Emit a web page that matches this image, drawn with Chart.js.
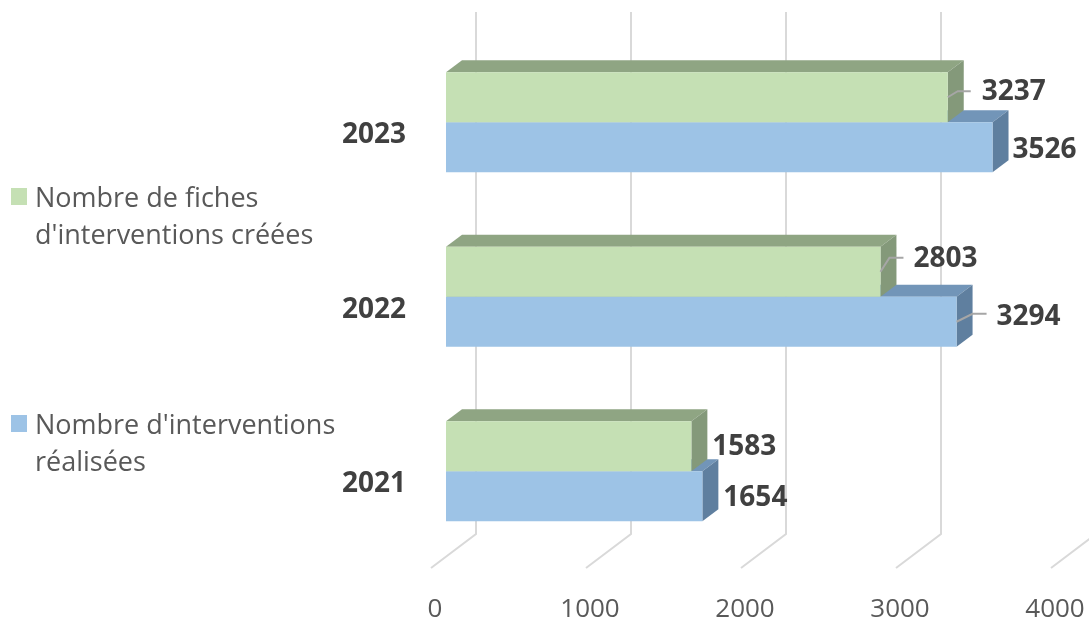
<!DOCTYPE html>
<html lang="fr">
<head>
<meta charset="utf-8">
<title>Interventions</title>
<script src="https://cdn.jsdelivr.net/npm/chart.js@4"></script>
<style>
  body { margin: 0; background: #fff; }
  #wrap { position: relative; width: 1089px; height: 621px; overflow: hidden; }
  .legend-item { position: absolute; left: 35px; font: 27px/37px "Open Sans", sans-serif; color: #595959; white-space: nowrap; }
  .legend-item i { position: absolute; left: -24px; top: 10px; width: 16px; height: 17px; }
</style>
</head>
<body>
<div id="wrap">
  <canvas id="chart" width="1089" height="621"></canvas>
</div>
<script>
const years = ['2023', '2022', '2021'];
const fiches = [3237, 2803, 1583];
const realisees = [3526, 3294, 1654];
const xTicks = [0, 1000, 2000, 3000, 4000];
const ficheLegend = ['Nombre de fiches', "d'interventions créées"];
const realiseeLegend = ["Nombre d'interventions", 'réalisées'];

const GREEN = { front: '#c5e0b4', top: '#8fa583', side: '#84997a' };
const BLUE = { front: '#9dc3e6', top: '#7295b8', side: '#5f7f9f' };
const DEPTH_X = 16, DEPTH_Y = 12;

// label position relative to the end of its bar, leader = [knee dx, knee dy, end dx] or null
const ficheLabels = [
  { dx: 66, dy: -5, leader: [10, -6, 23] },
  { dx: 65, dy: -13, leader: [9, -14, 23] },
  { dx: 53, dy: 1, leader: null }
];
const realiseeLabels = [
  { dx: 52, dy: 3, leader: null },
  { dx: 72, dy: -5, leader: [16, -8, 30] },
  { dx: 53, dy: 2, leader: null }
];

function poly(ctx, pts, color) {
  ctx.fillStyle = color;
  ctx.beginPath();
  pts.forEach((p, i) => i ? ctx.lineTo(p[0], p[1]) : ctx.moveTo(p[0], p[1]));
  ctx.closePath();
  ctx.fill();
}

const wallAndFaces = {
  id: 'wallAndFaces',
  beforeDatasetsDraw(chart) {
    const ctx = chart.ctx;
    const x = chart.scales.x;
    ctx.save();
    // back wall + floor lines
    ctx.strokeStyle = '#d9d9d9';
    ctx.lineWidth = 2;
    x.ticks.forEach(t => {
      const px = x.getPixelForValue(t.value);
      ctx.beginPath();
      ctx.moveTo(px + 30, 12);
      ctx.lineTo(px + 30, 534);
      ctx.lineTo(px - 15, 568);
      ctx.stroke();
    });
    // blue first, the green side sits over the blue top
    [[1, BLUE], [0, GREEN]].forEach(([d, c]) => {
      chart.getDatasetMeta(d).data.forEach(bar => {
        const t = bar.y - bar.height / 2, b = bar.y + bar.height / 2;
        poly(ctx, [[bar.base, t], [bar.base + DEPTH_X, t - DEPTH_Y], [bar.x + DEPTH_X, t - DEPTH_Y], [bar.x, t]], c.top);
        poly(ctx, [[bar.x, t], [bar.x + DEPTH_X, t - DEPTH_Y], [bar.x + DEPTH_X, b - DEPTH_Y], [bar.x, b]], c.side);
      });
    });
    ctx.restore();
  },
  afterDatasetsDraw(chart) {
    const ctx = chart.ctx;
    ctx.save();
    ctx.font = 'bold 28px "Open Sans", sans-serif';
    ctx.textAlign = 'center';
    ctx.textBaseline = 'middle';
    [[0, fiches, ficheLabels], [1, realisees, realiseeLabels]].forEach(([d, values, labels]) => {
      chart.getDatasetMeta(d).data.forEach((bar, i) => {
        const l = labels[i];
        if (l.leader) {
          ctx.strokeStyle = '#a6a6a6';
          ctx.lineWidth = 2;
          ctx.beginPath();
          ctx.moveTo(bar.x, bar.y);
          ctx.lineTo(bar.x + l.leader[0], bar.y + l.leader[1]);
          ctx.lineTo(bar.x + l.leader[2], bar.y + l.leader[1]);
          ctx.stroke();
        }
        ctx.fillStyle = '#404040';
        ctx.fillText(values[i], bar.x + l.dx, bar.y + l.dy);
      });
    });
    ctx.restore();
  }
};

new Chart(document.getElementById('chart'), {
  type: 'bar',
  data: {
    labels: years,
    datasets: [
      { label: ficheLegend.join(' '), data: fiches, backgroundColor: GREEN.front },
      { label: realiseeLegend.join(' '), data: realisees, backgroundColor: BLUE.front }
    ]
  },
  options: {
    indexAxis: 'y',
    responsive: false,
    animation: false,
    categoryPercentage: 0.573,
    barPercentage: 1,
    layout: { padding: { top: 35, right: 23, left: 0, bottom: 0 } },
    plugins: { legend: { display: false }, tooltip: { enabled: false } },
    scales: {
      x: {
        min: 0,
        max: 4000,
        afterFit(s) { s.height = 62.5; s.paddingLeft = 0; s.paddingRight = 0; },
        afterBuildTicks(s) { s.ticks = xTicks.map(v => ({ value: v })); },
        grid: { display: false },
        border: { display: false },
        ticks: {
          autoSkip: false,
          maxRotation: 0,
          labelOffset: -11,
          padding: 27,
          color: '#595959',
          font: { family: '"Open Sans", sans-serif', size: 26 },
          callback: v => String(v)
        }
      },
      y: {
        afterFit(s) { s.width = 446; s.paddingTop = 0; s.paddingBottom = 0; },
        grid: { display: false, drawTicks: false },
        border: { display: false },
        ticks: {
          padding: 40,
          labelOffset: 13,
          color: '#404040',
          font: { family: '"Open Sans", sans-serif', size: 28, weight: 'bold' }
        }
      }
    }
  },
  plugins: [wallAndFaces]
});

// legend sits apart from the plot, first-line swatch like the original
const wrap = document.getElementById('wrap');
[[ficheLegend, GREEN.front, 178], [realiseeLegend, BLUE.front, 405]].forEach(([lines, color, top]) => {
  const item = document.createElement('div');
  item.className = 'legend-item';
  item.style.top = top + 'px';
  item.innerHTML = '<i style="background:' + color + '"></i>' + lines.join('<br>');
  wrap.appendChild(item);
});
</script>
</body>
</html>
